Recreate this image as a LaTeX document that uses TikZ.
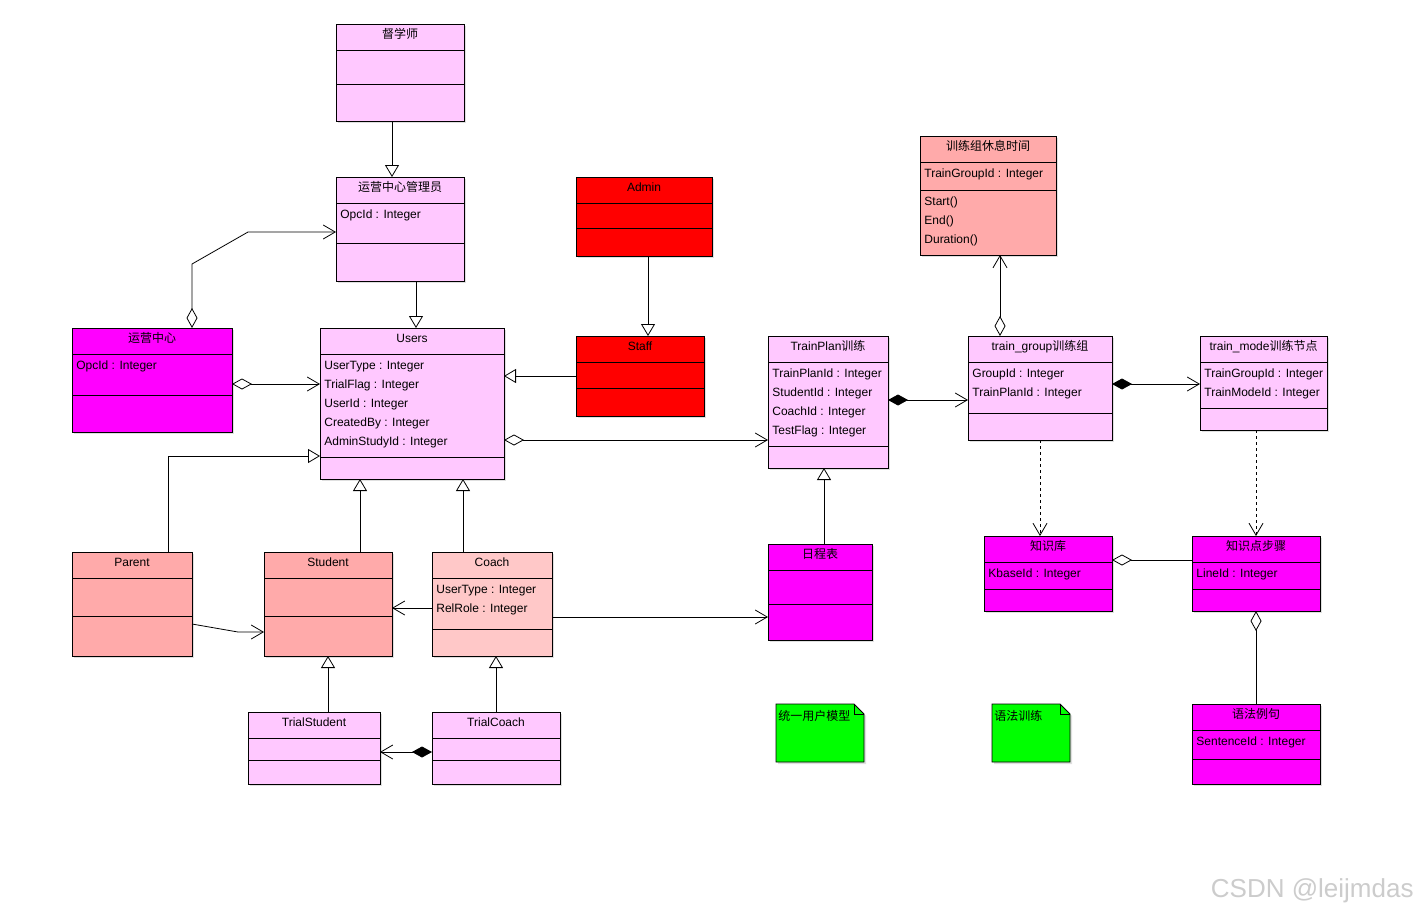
\documentclass[tikz,border=0pt]{standalone}
\usepackage{fontspec}
\setmainfont{Liberation Sans}
\newfontfamily\cjk[Scale=1.0]{Noto Sans CJK SC}
\usetikzlibrary{arrows.meta,shadows}
\definecolor{umlpink}{HTML}{FFC8FF}
\definecolor{umlmagenta}{HTML}{FF00FF}
\definecolor{umlred}{HTML}{FF0000}
\definecolor{umlsalmon}{HTML}{FFAAAA}
\definecolor{umlrose}{HTML}{FFC8C8}
\definecolor{umlgreen}{HTML}{00FF00}
\tikzset{
  classbox/.style={draw, anchor=north west, inner sep=0pt, outer sep=0pt,
    drop shadow={shadow xshift=2pt, shadow yshift=-2pt, opacity=0.25}},
  attr/.style={anchor=base west, inner sep=0pt},
  genarrow/.style={-{Triangle[length=12pt,width=14pt,fill=white]}},
  navarrow/.style={-{Straight Barb[length=12pt,width=14pt]}},
  aggarrow/.style={{Diamond[length=20pt,width=11pt,fill=white]}-{Straight Barb[length=12pt,width=14pt]}},
  comparrow/.style={{Diamond[length=20pt,width=11pt]}-{Straight Barb[length=12pt,width=14pt]}},
  aggline/.style={{Diamond[length=20pt,width=11pt,fill=white]}-},
  deparrow/.style={dashed, -{Straight Barb[length=12pt,width=14pt]}},
}
% 类：名, x, y, 宽, 高, 分隔线, 颜色, 类名, 属性
\newcommand{\umlclass}[9]{%
  \node[classbox, fill=#7, minimum width=#4pt, minimum height=#5pt] (#1) at (#2,#3) {};
  \draw (#2,#3+26) -- ++(#4,0);
  \draw (#2,#3+#6) -- ++(#4,0);
  \node[anchor=base, inner sep=0pt] (#1-title) at (#2+#4/2,#3+14) {#8};
  \foreach \attr [count=\idx] in {#9} {\node[attr] (#1-a\idx) at (#2+4,#3+22+19*\idx) {\attr};}
}
\begin{document}
\begin{tikzpicture}[x=1pt, y=-1pt, line width=0.8pt, font=\fontsize{12}{14}\selectfont]
    \fill[white] (0,0) rectangle (1420,913);
    \useasboundingbox (0,0) rectangle (1420,913);

    % 用户部分
    \umlclass{dux}{336}{24}{128}{97}{60}{umlpink}{{\cjk 督学师}}{}
    \umlclass{opadmin}{336}{177}{128}{104}{66}{umlpink}{{\cjk 运营中心管理员}}{OpcId : Integer}
    \umlclass{admin}{576}{177}{136}{79}{51}{umlred}{Admin}{}
    \umlclass{staff}{576}{336}{128}{80}{52}{umlred}{Staff}{}
    \umlclass{users}{320}{328}{184}{151}{129}{umlpink}{Users}{UserType : Integer, TrialFlag : Integer, UserId : Integer, CreatedBy : Integer, AdminStudyId : Integer}
    \umlclass{opcenter}{72}{328}{160}{104}{67}{umlmagenta}{{\cjk 运营中心}}{OpcId : Integer}
    \umlclass{parent}{72}{552}{120}{104}{64}{umlsalmon}{Parent}{}
    \umlclass{student}{264}{552}{128}{104}{64}{umlsalmon}{Student}{}
    \umlclass{coach}{432}{552}{120}{104}{77}{umlrose}{Coach}{UserType : Integer, RelRole : Integer}
    \umlclass{trialstu}{248}{712}{132}{72}{48}{umlpink}{TrialStudent}{}
    \umlclass{trialcoach}{432}{712}{128}{72}{48}{umlpink}{TrialCoach}{}

    % 训练部分
    \umlclass{plan}{768}{336}{120}{132}{110}{umlpink}{TrainPlan{\cjk 训练}}{TrainPlanId : Integer, StudentId : Integer, CoachId : Integer, TestFlag : Integer}
    \umlclass{group}{968}{336}{144}{104}{77}{umlpink}{train\_group{\cjk 训练组}}{GroupId : Integer, TrainPlanId : Integer}
    \umlclass{mode}{1200}{336}{127}{94}{72}{umlpink}{train\_mode{\cjk 训练节点}}{TrainGroupId : Integer, TrainModeId : Integer}
    \umlclass{rest}{920}{136}{136}{119}{54}{umlsalmon}{{\cjk 训练组休息时间}}{TrainGroupId : Integer}
    \foreach \m [count=\idx] in {Start(), End(), Duration()}
        \node[attr] (rest-m\idx) at (924,205+19*\idx-19) {\m};
    \umlclass{sched}{768}{544}{104}{96}{60}{umlmagenta}{{\cjk 日程表}}{}
    \umlclass{kbase}{984}{536}{128}{75}{53}{umlmagenta}{{\cjk 知识库}}{KbaseId : Integer}
    \umlclass{kstep}{1192}{536}{128}{75}{53}{umlmagenta}{{\cjk 知识点步骤}}{LineId : Integer}
    \umlclass{sentence}{1192}{704}{128}{80}{55}{umlmagenta}{{\cjk 语法例句}}{SentenceId : Integer}

    % 注释
    \filldraw[fill=umlgreen, drop shadow={shadow xshift=2pt, shadow yshift=-2pt, opacity=0.25}]
        (776,704) -- (854,704) -- (864,714) -- (864,762) -- (776,762) -- cycle;
    \draw (854,704) -- (854,714) -- (864,714);
    \node[anchor=west, inner sep=0pt] (note1) at (778,716) {\cjk 统一用户模型};
    \filldraw[fill=umlgreen, drop shadow={shadow xshift=2pt, shadow yshift=-2pt, opacity=0.25}]
        (992,704) -- (1060,704) -- (1070,714) -- (1070,762) -- (992,762) -- cycle;
    \draw (1060,704) -- (1060,714) -- (1070,714);
    \node[anchor=west, inner sep=0pt] (note2) at (994,716) {\cjk 语法训练};

    % 继承
    \draw[genarrow] ([xshift=-8pt]dux.south) -- ([xshift=-8pt]opadmin.north);
    \draw[genarrow] ([xshift=16pt]opadmin.south) -- ([xshift=4pt]users.north);
    \draw[genarrow] ([xshift=4pt]admin.south) -- ([xshift=8pt]staff.north);
    \draw[genarrow] (staff.west) -- ([yshift=27.5pt]users.east);
    \draw[genarrow] ([xshift=36pt]parent.north) |- ([yshift=-52.5pt]users.west);
    \draw[genarrow] ([xshift=32pt]student.north) -- ([xshift=-52pt]users.south);
    \draw[genarrow] ([xshift=-29pt]coach.north) -- ([xshift=51pt]users.south);
    \draw[genarrow] ([xshift=14pt]trialstu.north) -- (student.south);
    \draw[genarrow] (trialcoach.north) -- ([xshift=4pt]coach.south);
    \draw[genarrow] ([xshift=4pt]sched.north) -- ([xshift=-4pt]plan.south);

    % 关联
    \draw[aggarrow] ([xshift=40pt]opcenter.north) -- ++(0,-64) -- ++(56,-32) -- ([yshift=-3pt]opadmin.west);
    \draw[aggarrow] ([yshift=-4pt]opcenter.east) -- ([yshift=19.5pt]users.west);
    \draw[navarrow] ([yshift=-20pt]parent.east) -- ++(46,8) -- ([yshift=-28pt]student.west);
    \draw[navarrow] ([yshift=-4pt]coach.west) -- ([yshift=-4pt]student.east);
    \draw[navarrow] ([yshift=-13pt]coach.east) -- ([yshift=-25pt]sched.west);
    \draw[comparrow] ([yshift=-4pt]trialcoach.west) -- ([yshift=-4pt]trialstu.east);
    \draw[aggarrow] ([yshift=-36.5pt]users.east) -- ([yshift=-38pt]plan.west);
    \draw[comparrow] ([yshift=2pt]plan.east) -- ([yshift=-12pt]group.west);
    \draw[aggarrow] ([xshift=-40pt]group.north) -- ([xshift=12pt]rest.south);
    \draw[comparrow] ([yshift=4pt]group.east) -- ([yshift=-1pt]mode.west);
    \draw[deparrow] (group.south) -- ([xshift=-8pt]kbase.north);
    \draw[deparrow] ([xshift=-7.5pt]mode.south) -- (kstep.north);
    \draw[aggline] ([yshift=13.5pt]kbase.east) -- ([yshift=13.5pt]kstep.west);
    \draw[aggline] (kstep.south) -- (sentence.north);

    % 水印
    \node[anchor=base east, inner sep=0pt, text=black!20, font=\fontsize{26}{26}\selectfont] (mark) at (1414,897) {CSDN @leijmdas};
\end{tikzpicture}
\end{document}
